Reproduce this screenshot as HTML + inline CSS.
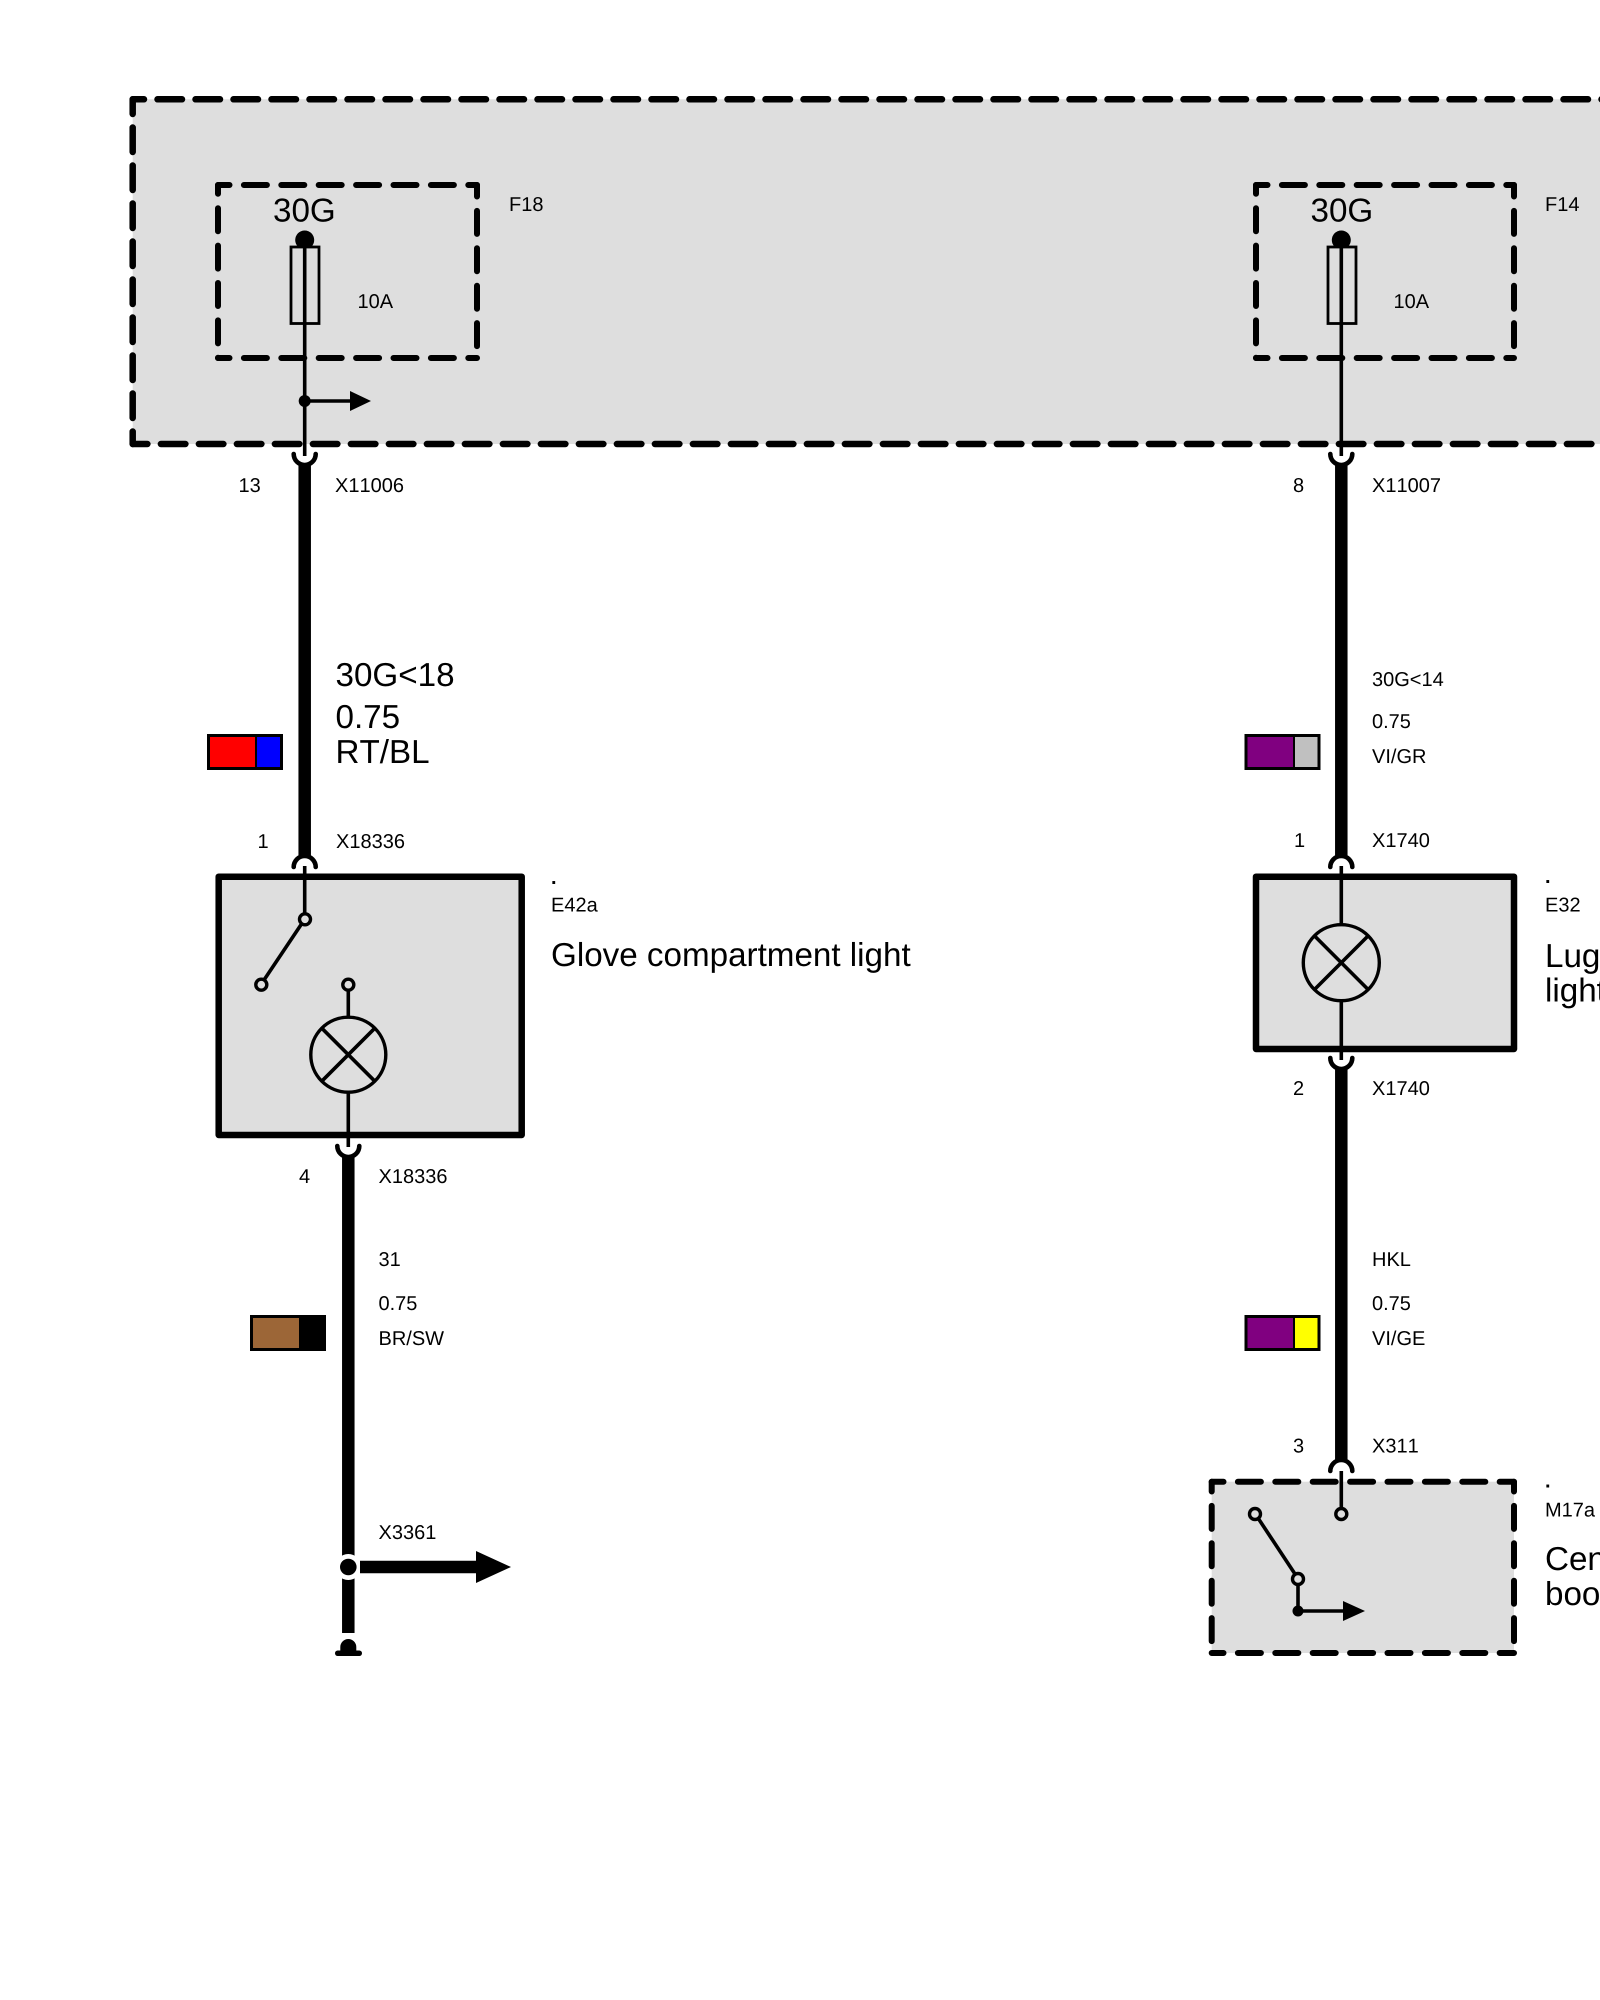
<!DOCTYPE html>
<html>
<head>
<meta charset="utf-8">
<style>
html,body{margin:0;padding:0;background:#fff;width:1600px;height:2000px;overflow:hidden}
svg{display:block}
text{font-family:"Liberation Sans",Arial,sans-serif;fill:#000;font-size:20px;font-kerning:none;text-rendering:geometricPrecision}
.l{font-size:33.2px}
.d{fill:none;stroke:#000;stroke-linecap:round}
.a{stroke-width:6.5;stroke-dasharray:24.5 13.5}
.b{stroke-width:6;stroke-dasharray:23 14.4}
.t{stroke:#000;stroke-width:3.6;fill:none}
.o{stroke:#000;stroke-width:3.4;fill:#dedede}
.k{stroke:#000;stroke-width:12.5;fill:none}
.f{stroke:#000;stroke-width:4.6;fill:none;stroke-linecap:round}
</style>
</head>
<body>
<svg width="1600" height="2000" viewBox="0 0 1600 2000" xmlns="http://www.w3.org/2000/svg">
<rect width="1600" height="2000" fill="#fff"/>

<!-- main dashed zone -->
<rect x="132.7" y="99.3" width="1480" height="344.7" fill="#dedede"/>
<path class="d a" stroke-dashoffset="13.2" d="M132.7 99.3H1620"/>
<path class="d a" stroke-dashoffset="9.8" d="M132.7 99.3V444"/>
<path class="d a" stroke-dashoffset="9.8" d="M132.7 444H1620"/>

<!-- F18 -->
<path class="d b" stroke-dashoffset="11.5" d="M218 185H477"/>
<path class="d b" stroke-dashoffset="14.2" d="M218 185V358"/>
<path class="d b" stroke-dashoffset="11.5" d="M218 358H477"/>
<path class="d b" stroke-dashoffset="11.5" d="M477 185V358"/>
<circle cx="304.7" cy="240" r="9.5" fill="#000"/>
<rect x="291" y="247" width="28" height="76.5" fill="#dedede" stroke="#000" stroke-width="2.8"/>
<path class="t" d="M304.7 240V456"/>
<circle cx="304.7" cy="401" r="6" fill="#000"/>
<path class="t" d="M304.7 401H352"/>
<polygon points="350,391 371,401 350,411" fill="#000"/>
<text class="l" x="273" y="221.7">30G</text>
<text x="509" y="211">F18</text>
<text x="357.5" y="308">10A</text>

<!-- F14 -->
<path class="d b" stroke-dashoffset="11.5" d="M1256 185H1514"/>
<path class="d b" stroke-dashoffset="14.2" d="M1256 185V358"/>
<path class="d b" stroke-dashoffset="11.5" d="M1256 358H1514"/>
<path class="d b" stroke-dashoffset="11.5" d="M1514 185V358"/>
<circle cx="1341.3" cy="240" r="9.5" fill="#000"/>
<rect x="1328" y="247" width="28" height="76.5" fill="#dedede" stroke="#000" stroke-width="2.8"/>
<path class="t" d="M1341.3 240V456"/>
<text class="l" x="1310.5" y="221.7">30G</text>
<text x="1545" y="211">F14</text>
<text x="1393.5" y="308">10A</text>

<!-- left column -->
<path class="f" d="M293.7 454A11 11 0 0 0 315.7 454"/>
<path class="k" d="M304.7 464V858"/>
<path class="f" d="M293.7 867A11 11 0 0 1 315.7 867"/>
<text x="238.5" y="492">13</text>
<text x="335" y="492">X11006</text>
<text class="l" x="335.5" y="686">30G&lt;18</text>
<text class="l" x="335.5" y="728">0.75</text>
<text class="l" x="335.5" y="763">RT/BL</text>
<rect x="208.5" y="735.5" width="73" height="33" fill="#00f" stroke="#000" stroke-width="3"/>
<rect x="210" y="737" width="46" height="30" fill="#f00"/>
<path d="M256 736V768" stroke="#000" stroke-width="2"/>
<text x="257.5" y="848">1</text>
<text x="336" y="848">X18336</text>

<!-- E42a -->
<rect x="218.7" y="876.7" width="303" height="258.3" fill="#dedede" stroke="#000" stroke-width="6.5" stroke-linejoin="round"/>
<path class="t" d="M304.7 866V914"/>
<path class="t" d="M301.5 924L264 980"/>
<circle class="o" cx="305" cy="919.3" r="5.5"/>
<circle class="o" cx="261.3" cy="984.7" r="5.5"/>
<circle class="o" cx="348.3" cy="984.7" r="5.5"/>
<path class="t" d="M348.3 990V1017M348.3 1092V1147"/>
<circle cx="348.3" cy="1054.7" r="37.5" fill="#dedede" stroke="#000" stroke-width="3.4"/>
<path class="t" d="M321.8 1028.2L374.8 1081.2M374.8 1028.2L321.8 1081.2"/>
<path class="f" d="M337.3 1146A11 11 0 0 0 359.3 1146"/>
<path class="k" d="M348.3 1156V1633"/>
<text x="551" y="884" font-weight="bold">.</text>
<text x="551" y="911.7">E42a</text>
<text class="l" x="551" y="966">Glove compartment light</text>
<text x="299" y="1183">4</text>
<text x="378.5" y="1183">X18336</text>
<text x="378.5" y="1266">31</text>
<text x="378.5" y="1310">0.75</text>
<text x="378.5" y="1345">BR/SW</text>
<rect x="250" y="1315" width="76" height="36" fill="#000"/>
<rect x="253" y="1318" width="46" height="30" fill="#9c6637"/>
<text x="378.5" y="1539">X3361</text>
<circle cx="348.3" cy="1567" r="13" fill="#fff"/>
<circle cx="348.3" cy="1567" r="8.3" fill="#000"/>
<path d="M360 1567H478" stroke="#000" stroke-width="12.5"/>
<polygon points="476,1551 511,1567 476,1583" fill="#000"/>
<circle cx="348.3" cy="1647" r="13" fill="#fff"/>
<path d="M340.3 1652V1647A8 8 0 0 1 356.3 1647V1652Z" fill="#000"/>
<rect x="335" y="1650.5" width="27" height="5.5" rx="2.7" fill="#000"/>

<!-- right column -->
<path class="f" d="M1330.3 454A11 11 0 0 0 1352.3 454"/>
<path class="k" d="M1341.3 464V858"/>
<path class="f" d="M1330.3 867A11 11 0 0 1 1352.3 867"/>
<text x="1293" y="492">8</text>
<text x="1372" y="492">X11007</text>
<text x="1372" y="686">30G&lt;14</text>
<text x="1372" y="728">0.75</text>
<text x="1372" y="763">VI/GR</text>
<rect x="1246" y="735.5" width="73" height="33" fill="#c0c0c0" stroke="#000" stroke-width="3"/>
<rect x="1247.5" y="737" width="46" height="30" fill="#800080"/>
<path d="M1294 736V768" stroke="#000" stroke-width="2"/>
<text x="1294" y="847">1</text>
<text x="1372" y="847">X1740</text>

<!-- E32 -->
<rect x="1256" y="876.7" width="258" height="172.3" fill="#dedede" stroke="#000" stroke-width="6.5" stroke-linejoin="round"/>
<path class="t" d="M1341.3 866V925M1341.3 1000V1060"/>
<circle cx="1341.3" cy="962.7" r="38" fill="#dedede" stroke="#000" stroke-width="3.4"/>
<path class="t" d="M1314.5 935.9L1368.1 989.5M1368.1 935.9L1314.5 989.5"/>
<text x="1545" y="883" font-weight="bold">.</text>
<text x="1545" y="911.7">E32</text>
<text class="l" x="1545" y="967">Luggage compartment</text>
<text class="l" x="1545" y="1001.7">light</text>
<path class="f" d="M1330.3 1058A11 11 0 0 0 1352.3 1058"/>
<path class="k" d="M1341.3 1068V1462"/>
<text x="1293" y="1095">2</text>
<text x="1372" y="1095">X1740</text>
<text x="1372" y="1266">HKL</text>
<text x="1372" y="1310">0.75</text>
<text x="1372" y="1345">VI/GE</text>
<rect x="1246" y="1316.5" width="73" height="33" fill="#ff0" stroke="#000" stroke-width="3"/>
<rect x="1247.5" y="1318" width="46" height="30" fill="#800080"/>
<path d="M1294 1317V1349" stroke="#000" stroke-width="2"/>
<text x="1293" y="1452.7">3</text>
<text x="1372" y="1452.7">X311</text>
<path class="f" d="M1330.3 1471A11 11 0 0 1 1352.3 1471"/>

<!-- M17a -->
<rect x="1211.7" y="1481.7" width="302.3" height="171.3" fill="#dedede"/>
<path class="d b" stroke-dashoffset="11.2" d="M1211.7 1481.7H1514"/>
<path class="d b" stroke-dashoffset="13.2" d="M1211.7 1481.7V1653"/>
<path class="d b" stroke-dashoffset="11.2" d="M1211.7 1653H1514"/>
<path class="d b" stroke-dashoffset="13.2" d="M1514 1481.7V1653"/>
<path class="t" d="M1341.3 1471V1508"/>
<circle class="o" cx="1341.3" cy="1514" r="5.5"/>
<path class="t" d="M1258 1518L1295 1574"/>
<circle class="o" cx="1255" cy="1514" r="5.5"/>
<circle class="o" cx="1298" cy="1579" r="5.5"/>
<path class="t" d="M1298 1585V1611H1345"/>
<circle cx="1298" cy="1611" r="5.5" fill="#000"/>
<polygon points="1343,1601 1365,1611 1343,1621" fill="#000"/>
<text x="1545" y="1487.7" font-weight="bold">.</text>
<text x="1545" y="1516.7">M17a</text>
<text class="l" x="1545" y="1570">Central locking</text>
<text class="l" x="1545" y="1605">boot lid</text>
</svg>
</body>
</html>
